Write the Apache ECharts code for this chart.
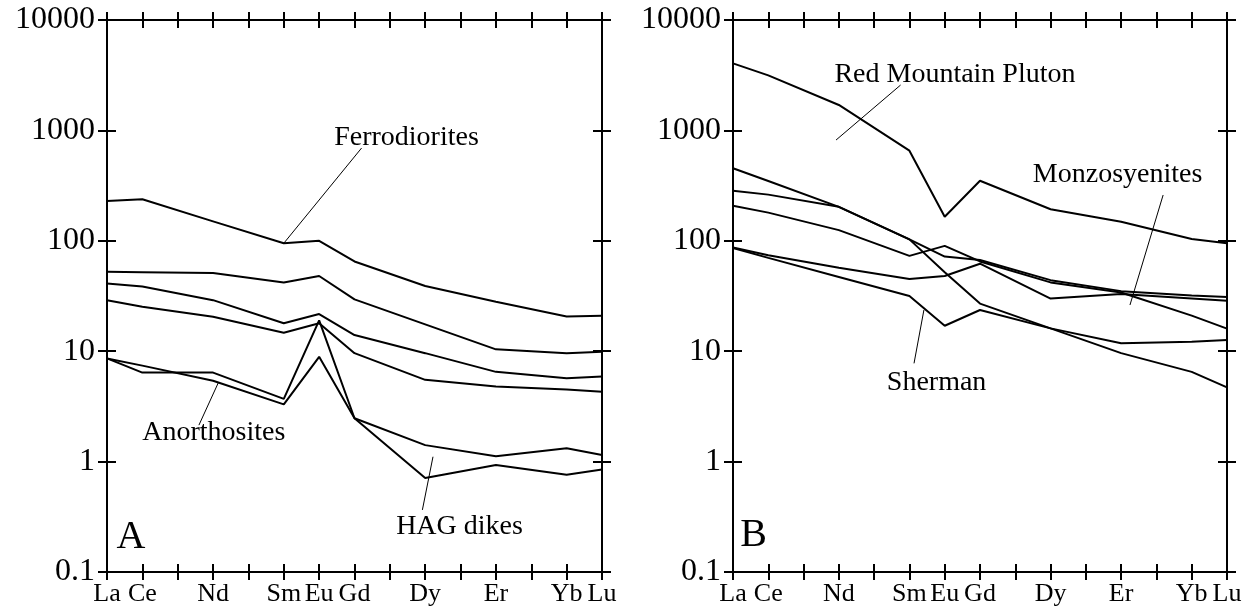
<!DOCTYPE html>
<html>
<head>
<meta charset="utf-8">
<script src="https://cdn.jsdelivr.net/npm/echarts@6/dist/echarts.min.js"></script>
<style>
  html, body { margin: 0; padding: 0; background: #fff; }
  #main { width: 1249px; height: 611px; }
</style>
</head>
<body>
<div id="main"></div>
<script>
// REE names and their atomic numbers (x position)
var elements = ['La', 'Ce', 'Nd', 'Sm', 'Eu', 'Gd', 'Dy', 'Er', 'Yb', 'Lu'];
var atomicNumbers = [57, 58, 60, 62, 63, 64, 66, 68, 70, 71];
var yTicks = [0.1, 1, 10, 100, 1000, 10000];

// panel A
var ferroA1 = [229, 238, 150, 95, 100, 65, 39, 28, 20.6, 21];
var ferroA2 = [52.5, 52, 51, 42, 48, 29.5, 17.5, 10.4, 9.6, 9.9];
var ferroA3 = [41, 38.5, 29, 17.9, 21.7, 14, 9.6, 6.5, 5.7, 5.9];
var ferroA4 = [29, 25.3, 20.5, 14.7, 17.9, 9.6, 5.5, 4.8, 4.5, 4.3];
var anorth1 = [8.6, 6.4, 6.4, 3.7, 19, 2.47, 0.71, 0.93, 0.76, 0.85];
var anorth2 = [8.6, 7.4, 5.4, 3.3, 8.9, 2.47, 1.41, 1.12, 1.32, 1.15];

// panel B
var redMountain = [4050, 3150, 1700, 655, 165, 350, 193, 149, 104, 95];
var monzo1 = [454, 348, 203, 103, 52, 27, 16.1, 11.8, 12.2, 12.6];
var monzo2 = [284, 262, 203, 103, 72, 67, 44, 35, 32, 31];
var monzo3 = [208, 180, 125, 73, 90, 65, 42, 34, 21, 16];
var monzo4 = [87, 74, 57, 45, 48, 62, 30, 33, 30, 28.6];
var sherman = [86, 70, 47, 31.6, 17, 23.6, 16.1, 9.6, 6.5, 4.7];

var panelA = [ferroA1, ferroA2, ferroA3, ferroA4, anorth1, anorth2];
var panelB = [redMountain, monzo1, monzo2, monzo3, monzo4, sherman];

// labels and leader lines, in data units (atomic number, value)
var notes = [
  { grid: 0, text: 'Ferrodiorites', at: [65.47, 851], size: 28 },
  { grid: 0, text: 'Anorthosites', at: [60.02, 1.82], size: 28 },
  { grid: 0, text: 'HAG dikes', at: [66.97, 0.256], size: 28 },
  { grid: 0, text: 'A', at: [57.68, 0.205], size: 40 },
  { grid: 1, text: 'Red Mountain Pluton', at: [63.29, 3177], size: 28 },
  { grid: 1, text: 'Monzosyenites', at: [67.9, 394], size: 28 },
  { grid: 1, text: 'Sherman', at: [62.77, 5.15], size: 28 },
  { grid: 1, text: 'B', at: [57.58, 0.215], size: 40 }
];
var leaders = [
  { grid: 0, from: [64.2, 692], to: [62, 95] },
  { grid: 0, from: [60.15, 5.2], to: [59.6, 2.14] },
  { grid: 0, from: [66.22, 1.107], to: [65.92, 0.365] },
  { grid: 1, from: [61.75, 2576], to: [59.92, 818] },
  { grid: 1, from: [69.19, 260], to: [68.25, 26.2] },
  { grid: 1, from: [62.41, 23.6], to: [62.13, 7.76] }
];

var font = 'Liberation Serif';
var nameOf = {};
atomicNumbers.forEach(function (z, i) { nameOf[z] = elements[i]; });

function pts(vals) {
  return vals.map(function (v, i) { return [atomicNumbers[i], v]; });
}

var xAxis = [], yAxis = [], series = [];
[0, 1].forEach(function (g) {
  // bottom/top, each twice: ticks outside and inside so they cross the frame
  [['bottom', false, true], ['bottom', true, false], ['top', false, false], ['top', true, false]].forEach(function (c) {
    xAxis.push({
      gridIndex: g, type: 'value', position: c[0], min: 57, max: 71, interval: 1,
      axisLine: { show: true, onZero: false, lineStyle: { color: '#000', width: 2 } },
      axisTick: { show: true, inside: c[1], length: 8, lineStyle: { color: '#000', width: 2 } },
      axisLabel: {
        show: c[2], margin: 9, color: '#000', fontFamily: font, fontSize: 26,
        showMinLabel: true, showMaxLabel: true,
        formatter: function (v) { return nameOf[v] || ''; }
      },
      splitLine: { show: false }
    });
  });
  [['left', false, true], ['left', true, false], ['right', false, false], ['right', true, false]].forEach(function (c) {
    yAxis.push({
      gridIndex: g, type: 'log', logBase: 10, position: c[0], min: 0.1, max: 10000,
      axisLine: { show: true, onZero: false, lineStyle: { color: '#000', width: 2 } },
      axisTick: { show: true, inside: c[1], length: 9, lineStyle: { color: '#000', width: 2 } },
      axisLabel: {
        show: c[2], margin: 12, color: '#000', fontFamily: font, fontSize: 32,
        showMinLabel: true, showMaxLabel: true,
        formatter: function (v) {
          var r = yTicks.filter(function (t) { return Math.abs(t - v) / t < 1e-6; });
          return r.length ? String(r[0]) : '';
        }
      },
      splitLine: { show: false }
    });
  });
});

function addLines(list, g) {
  list.forEach(function (vals) {
    series.push({
      type: 'line', xAxisIndex: g * 4, yAxisIndex: g * 4, data: pts(vals),
      symbol: 'none', silent: true,
      lineStyle: { color: '#000', width: 2 }
    });
  });
}
addLines(panelA, 0);
addLines(panelB, 1);

leaders.forEach(function (l) {
  series.push({
    type: 'line', xAxisIndex: l.grid * 4, yAxisIndex: l.grid * 4,
    data: [l.from, l.to], symbol: 'none', silent: true,
    lineStyle: { color: '#000', width: 1 }
  });
});

notes.forEach(function (n) {
  series.push({
    type: 'scatter', xAxisIndex: n.grid * 4, yAxisIndex: n.grid * 4,
    data: [n.at], symbolSize: 0, silent: true,
    itemStyle: { color: '#000', opacity: 1 },
    label: {
      show: true, position: 'inside', formatter: n.text,
      color: '#000', textBorderWidth: 0, fontFamily: font, fontSize: n.size,
      align: 'center', verticalAlign: 'middle'
    }
  });
});

var myChart = echarts.init(document.getElementById('main'));
myChart.setOption({
  animation: false,
  backgroundColor: '#fff',
  grid: [
    { left: 107, right: 647, top: 20, bottom: 39 },
    { left: 733, right: 22, top: 20, bottom: 39 }
  ],
  xAxis: xAxis,
  yAxis: yAxis,
  series: series
});
</script>
</body>
</html>
